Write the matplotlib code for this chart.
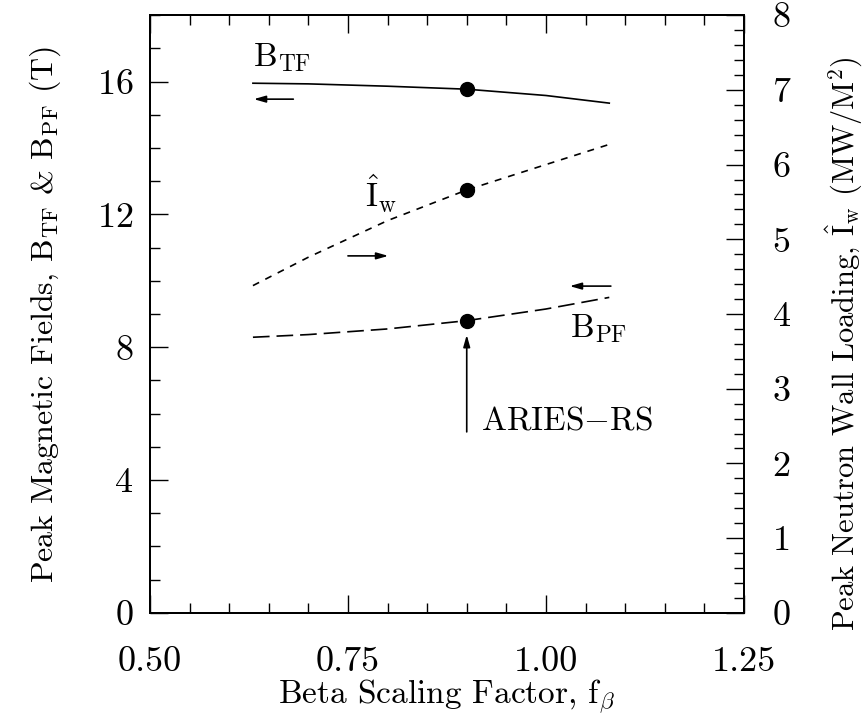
import matplotlib
matplotlib.use('Agg')
import matplotlib.pyplot as plt
from matplotlib.ticker import MultipleLocator

plt.rcParams['font.family'] = 'cmr10'
plt.rcParams['mathtext.fontset'] = 'cm'
plt.rcParams['axes.unicode_minus'] = False
plt.rcParams['axes.formatter.use_mathtext'] = True
plt.rcParams['lines.scale_dashes'] = False

# beta scaling factor
fb = [0.63, 0.70, 0.80, 0.90, 1.00, 1.08]
# peak fields (T)
b_tf = [15.95, 15.93, 15.86, 15.77, 15.58, 15.35]
b_pf = [8.30, 8.38, 8.55, 8.80, 9.15, 9.50]
# peak neutron wall loading (MW/m2)
i_w = [4.38, 4.76, 5.25, 5.66, 6.00, 6.27]

# ARIES-RS design point
fb_rs = 0.90
b_tf_rs = 15.77
b_pf_rs = 8.79
i_w_rs = 5.66

fig = plt.figure(figsize=(8.67, 7.21), dpi=100)
ax = fig.add_axes([0.173, 0.150, 0.685, 0.829])
ax2 = ax.twinx()

ax.plot(fb, b_tf, color='black', lw=1.2)
ax.plot(fb, b_pf, color='black', lw=1.2, dashes=(12, 5))
ax2.plot(fb, i_w, color='black', lw=1.2, dashes=(5, 5))

ax.plot([fb_rs, fb_rs], [b_tf_rs, b_pf_rs], 'o', color='black', ms=10, ls='none')
ax2.plot([fb_rs], [i_w_rs], 'o', color='black', ms=10)

ax.set_xlim(0.5, 1.25)
ax.set_ylim(0, 18)
ax2.set_ylim(0, 8)

ax.xaxis.set_major_locator(MultipleLocator(0.25))
ax.xaxis.set_minor_locator(MultipleLocator(0.05))
ax.yaxis.set_major_locator(MultipleLocator(4))
ax.yaxis.set_minor_locator(MultipleLocator(1))
ax2.yaxis.set_major_locator(MultipleLocator(1))
ax2.yaxis.set_minor_locator(MultipleLocator(0.2))
ax.xaxis.set_major_formatter(plt.FuncFormatter(lambda v, p: f'{v:.2f}'))

ax.tick_params(axis='x', which='both', direction='in', top=True, bottom=True, labelsize=26, pad=24)
ax.tick_params(axis='y', which='both', direction='in', right=False, labelsize=26, pad=12)
ax2.tick_params(axis='y', which='both', direction='in', labelsize=26, pad=20)
for a in (ax, ax2):
    a.tick_params(which='major', length=13, width=1)
    a.tick_params(which='minor', length=7, width=1)
    for s in a.spines.values():
        s.set_linewidth(1.4)

ax.set_xlabel(r'Beta Scaling Factor, f$_\beta$', fontsize=24, labelpad=0)
ax.set_ylabel(r'Peak Magnetic Fields, B$_{\rm TF}$ & B$_{\rm PF}$ (T)', fontsize=23, labelpad=24)
ax2.set_ylabel(r'Peak Neutron Wall Loading, $\hat{\rm I}_{\rm w}$ (MW/M$^2$)', fontsize=22)
ax2.yaxis.set_label_coords(1.135, 0.45)

# curve labels
ax.text(0.630, 16.45, r'B$_{\rm TF}$', fontsize=24)
ax.text(0.771, 12.22, r'$\hat{\rm I}_{\rm w}$', fontsize=24)
ax.text(1.031, 8.31, r'B$_{\rm PF}$', fontsize=24)
ax.text(0.918, 5.51, r'ARIES$-$RS', fontsize=24)

# axis direction arrows
arr = dict(arrowstyle='-|>,head_length=0.7,head_width=0.2', color='black', lw=1.2, shrinkA=0, shrinkB=0)
ax.annotate('', xy=(0.631, 15.47), xytext=(0.681, 15.47), arrowprops=arr)
ax.annotate('', xy=(0.801, 10.75), xytext=(0.750, 10.75), arrowprops=arr)
ax.annotate('', xy=(1.030, 9.84), xytext=(1.082, 9.84), arrowprops=arr)
ax.annotate('', xy=(fb_rs, 8.37), xytext=(fb_rs, 5.45), arrowprops=arr)

fig.savefig('out.png', dpi=100)
